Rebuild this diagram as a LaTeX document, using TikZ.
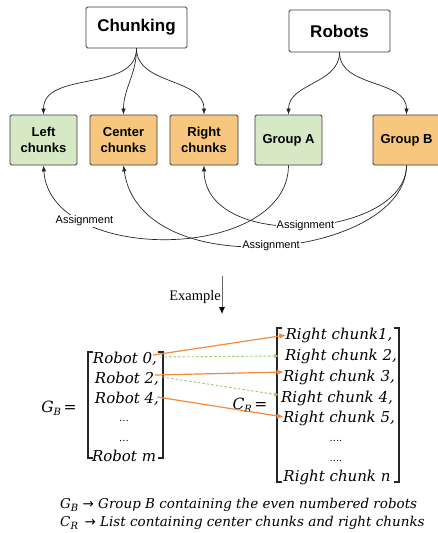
\documentclass[tikz,border=0pt]{standalone}
\usepackage{fontspec}
\setmainfont{Liberation Serif}
\newfontfamily\boxfont{Liberation Sans}
\newfontfamily\eqfont{DejaVu Serif}
\newfontfamily\symfont{DejaVu Sans}
\usetikzlibrary{arrows.meta,calc}

\definecolor{boxgreen}{RGB}{214,233,196}
\definecolor{boxorange}{RGB}{247,199,128}
\definecolor{boxline}{RGB}{60,60,60}
\definecolor{linkorange}{RGB}{240,138,62}
\definecolor{linkgreen}{RGB}{150,205,105}

\newcommand{\eqsub}[1]{\raisebox{-0.4ex}{\fontsize{10}{10}\selectfont #1}}

\tikzset{
  titlebox/.style={draw=boxline, fill=white, rounded corners=1.5pt, line width=0.8pt,
    minimum width=101pt, minimum height=41pt,
    font=\boxfont\bfseries\fontsize{17}{19}\selectfont},
  itembox/.style={draw=boxline, rounded corners=1.5pt, line width=0.8pt,
    minimum width=67pt, minimum height=50pt, align=center,
    font=\boxfont\bfseries\fontsize{13}{16}\selectfont},
  greenbox/.style={itembox, fill=boxgreen},
  orangebox/.style={itembox, fill=boxorange},
  tree/.style={draw=black!85, line width=0.7pt, -{Latex[length=6pt,width=4.5pt]}},
  assign/.style={font=\boxfont\fontsize{11}{12}\selectfont, fill=white, inner sep=1pt},
  entry/.style={font=\eqfont\itshape\fontsize{15}{17}\selectfont, anchor=base, inner sep=0pt},
  bracket/.style={line width=1.3pt, draw=black!85},
  maporange/.style={draw=linkorange, line width=1.2pt, -{Latex[length=7pt,width=5.5pt]}},
  mapgreen/.style={draw=linkgreen, line width=0.9pt, dash pattern=on 2.5pt off 2pt,
    -{Latex[length=4.5pt,width=4.5pt]}},
}

\begin{document}
\begin{tikzpicture}[x=1pt, y=-1pt]
\useasboundingbox (0,0) rectangle (438,533);

% top level boxes
\node[titlebox] (chunking) at (136.5,27.5) {Chunking};
\node[titlebox, minimum height=42pt] (robots) at (339.5,31) {Robots};

% second row
\node[greenbox]  (left)   at (43.5,140)  {Left\\chunks};
\node[orangebox] (center) at (123.5,140) {Center\\chunks};
\node[orangebox, minimum width=68pt] (right) at (204,140) {Right\\chunks};
\node[greenbox]  (groupA) at (288.5,140) {Group A};
\node[orangebox] (groupB) at (406.5,140) {Group B};

% splitting arrows
\draw[tree] (chunking.south) to[out=-90,in=90] (left.north);
\draw[tree] (chunking.south) to[out=-90,in=90] (center.north);
\draw[tree] (chunking.south) to[out=-90,in=90] (right.north);
\draw[tree] (robots.south) to[out=-90,in=90] (groupA.north);
\draw[tree] (robots.south) to[out=-90,in=90] (groupB.north);

% assignment links
\draw[tree] (groupA.south) .. controls (288,262) and (50,265) .. (left.south)
  node[assign, pos=0.75] {Assignment};
\draw[tree] (groupB.south) .. controls (406,258) and (140,287) .. (center.south)
  node[assign, pos=0.5] {Assignment};
\draw[tree] (groupB.south) .. controls (406,238) and (205,253) .. (right.south)
  node[assign, pos=0.5] {Assignment};

% example arrow
\coordinate (exTop) at (222,276);
\coordinate (exBot) at (222,314);
\draw[draw=black!60, line width=0.8pt, -{Latex[length=7pt,width=6pt,color=black]}] (exTop) -- (exBot);
\node[font=\fontsize{14.5}{16}\selectfont, anchor=east, inner sep=0pt] (example) at (221,297) {Example};

% robot list G_B
\node[font=\eqfont\itshape\fontsize{15.5}{17}\selectfont] (gb) at (59,408) {G\eqsub{B}\,\upshape =};
\node[entry] (r0) at (125,363) {Robot 0,};
\node[entry] (r2) at (127,383) {Robot 2,};
\node[entry] (r4) at (127,403) {Robot 4,};
\node[entry] (rd1) at (124,421) {\upshape\fontsize{10}{10}\selectfont ...};
\node[entry] (rd2) at (124,441) {\upshape\fontsize{10}{10}\selectfont ...};
\node[entry] (rm) at (124,461) {Robot m};
\draw[bracket] (93,352) -- (88,352) -- (88,458) -- (93,458);
\draw[bracket] (158,352) -- (163,352) -- (163,458) -- (158,458);

% chunk list C_R
\node[font=\eqfont\itshape\fontsize{15.5}{17}\selectfont] (cr) at (250,405) {C\eqsub{R}\,\upshape =};
\node[entry] (c1) at (339,339) {Right chunk1,};
\node[entry] (c2) at (341,360) {Right chunk 2,};
\node[entry] (c3) at (339,381) {Right chunk 3,};
\node[entry] (c4) at (337,402) {Right chunk 4,};
\node[entry] (c5) at (339,422) {Right chunk 5,};
\node[entry] (cd1) at (336,441) {\upshape\fontsize{10}{10}\selectfont ....};
\node[entry] (cd2) at (336,461) {\upshape\fontsize{10}{10}\selectfont ....};
\node[entry] (cn) at (337,481) {Right chunk n};
\draw[bracket] (282,328) -- (277,328) -- (277,482) -- (282,482);
\draw[bracket] (394,328) -- (399,328) -- (399,482) -- (394,482);

% robot to chunk mapping
\draw[mapgreen] ($(r0.base east)+(3,-6)$) -- ($(c2.base west)+(-6,-4)$);
\draw[mapgreen] ($(r2.base east)+(3,-6)$) -- ($(c4.base west)+(-2,-7)$);
\draw[maporange] ($(r0.base east)+(-4,-8)$) -- ($(c1.base west)+(1,-4)$);
\draw[maporange] ($(r2.base east)+(-4,-8)$) -- ($(c3.base west)+(1,-9)$);
\draw[maporange] ($(r4.base east)+(-2,-6)$) -- ($(c5.base west)+(1,-5)$);

% legend
\node[anchor=west, inner sep=0pt, font=\eqfont\itshape\fontsize{13.5}{15}\selectfont] (legB) at (60,505)
  {G\eqsub{B} {\symfont\upshape →} Group B containing the even numbered robots};
\node[anchor=west, inner sep=0pt, font=\eqfont\itshape\fontsize{13.5}{15}\selectfont] (legR) at (60,523)
  {C\eqsub{R} \,{\symfont\upshape →} List containing center chunks and right chunks};
\end{tikzpicture}
\end{document}
